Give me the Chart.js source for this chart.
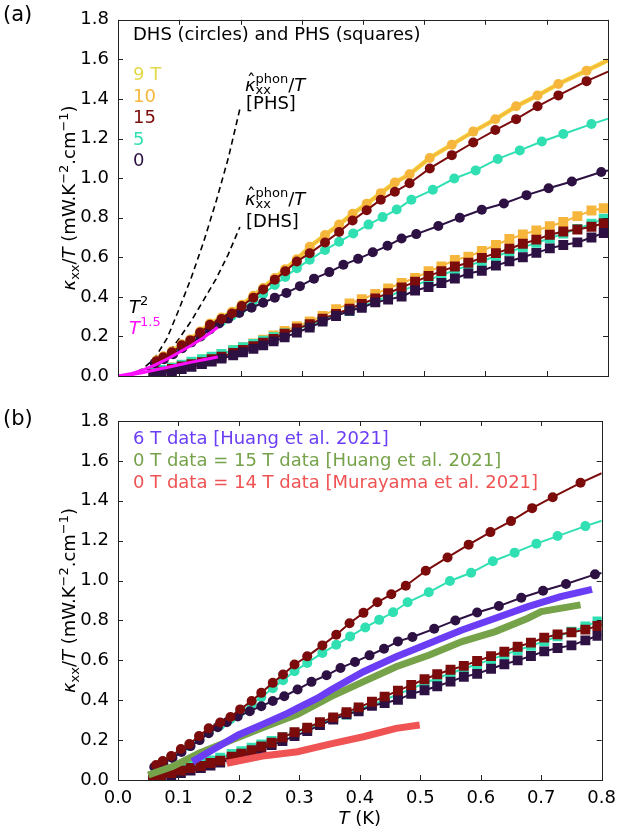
<!DOCTYPE html>
<html>
<head>
<meta charset="utf-8">
<script src="https://cdn.jsdelivr.net/npm/chart.js@4.4.1/dist/chart.umd.min.js"></script>
<style>
    html, body { margin: 0; padding: 0; background: #fff; }
    #wrap { position: relative; width: 624px; height: 835px; }
    canvas { position: absolute; left: 0; }
    #chartA { top: 0; }
    #chartB { top: 400px; }
</style>
</head>
<body>
<div id="wrap">
    <canvas id="chartA" width="624" height="400"></canvas>
    <canvas id="chartB" width="624" height="435"></canvas>
</div>
<script>
// ---- DHS data (circles) ----
const tDhs = [0.063, 0.074, 0.088, 0.104, 0.118, 0.134, 0.150, 0.169, 0.186, 0.202, 0.221, 0.237, 0.256, 0.273, 0.292, 0.313, 0.338, 0.361, 0.383, 0.406, 0.429, 0.452, 0.476, 0.509, 0.545, 0.580, 0.616, 0.650, 0.685, 0.719, 0.765, 0.800];
const dhs9T  = [0.08, 0.10, 0.125, 0.16, 0.185, 0.225, 0.265, 0.295, 0.325, 0.36, 0.405, 0.445, 0.495, 0.54, 0.59, 0.653, 0.712, 0.765, 0.82, 0.87, 0.924, 0.978, 1.019, 1.102, 1.169, 1.235, 1.297, 1.363, 1.418, 1.476, 1.543, 1.595];
const dhs10T = [0.08, 0.10, 0.125, 0.16, 0.185, 0.225, 0.265, 0.295, 0.325, 0.36, 0.405, 0.445, 0.495, 0.54, 0.59, 0.653, 0.712, 0.765, 0.82, 0.87, 0.924, 0.978, 1.019, 1.102, 1.169, 1.235, 1.297, 1.363, 1.418, 1.476, 1.543, 1.595];
const dhs15T = [0.075, 0.095, 0.12, 0.155, 0.18, 0.22, 0.259, 0.288, 0.316, 0.354, 0.396, 0.437, 0.487, 0.529, 0.579, 0.62, 0.675, 0.728, 0.786, 0.838, 0.891, 0.931, 0.974, 1.049, 1.116, 1.180, 1.243, 1.298, 1.363, 1.418, 1.490, 1.538];
const tDhs5 = [0.063, 0.074, 0.088, 0.104, 0.118, 0.134, 0.150, 0.169, 0.186, 0.202, 0.221, 0.237, 0.256, 0.273, 0.292, 0.313, 0.338, 0.361, 0.384, 0.409, 0.432, 0.455, 0.479, 0.514, 0.549, 0.584, 0.620, 0.656, 0.692, 0.727, 0.773, 0.800];
const dhs5T  = [0.07, 0.09, 0.115, 0.145, 0.17, 0.205, 0.24, 0.275, 0.305, 0.34, 0.38, 0.415, 0.46, 0.50, 0.545, 0.587, 0.637, 0.678, 0.720, 0.765, 0.803, 0.841, 0.891, 0.941, 0.998, 1.039, 1.097, 1.14, 1.185, 1.223, 1.273, 1.30];
const tDhs0 = [0.060, 0.075, 0.090, 0.105, 0.120, 0.135, 0.150, 0.165, 0.180, 0.198, 0.218, 0.237, 0.256, 0.275, 0.297, 0.320, 0.345, 0.368, 0.392, 0.416, 0.440, 0.463, 0.487, 0.523, 0.558, 0.594, 0.630, 0.667, 0.703, 0.741, 0.789, 0.800];
const dhs0T  = [0.065, 0.085, 0.11, 0.14, 0.17, 0.20, 0.235, 0.265, 0.29, 0.318, 0.345, 0.37, 0.396, 0.42, 0.454, 0.492, 0.525, 0.562, 0.592, 0.625, 0.658, 0.695, 0.717, 0.758, 0.800, 0.840, 0.872, 0.914, 0.949, 0.983, 1.031, 1.038];

// ---- PHS data (squares) ----
const tPhs = [0.058, 0.071, 0.088, 0.104, 0.120, 0.137, 0.153, 0.169, 0.188, 0.204, 0.221, 0.237, 0.254, 0.272, 0.292, 0.313, 0.334, 0.356, 0.378, 0.398, 0.420, 0.441, 0.463, 0.485, 0.507, 0.528, 0.550, 0.572, 0.594, 0.617, 0.639, 0.661, 0.683, 0.705, 0.727, 0.750, 0.773, 0.793, 0.800];
const phs10T = [0.02, 0.03, 0.043, 0.056, 0.07, 0.082, 0.096, 0.11, 0.13, 0.146, 0.165, 0.184, 0.205, 0.228, 0.252, 0.276, 0.304, 0.338, 0.366, 0.388, 0.415, 0.442, 0.470, 0.495, 0.529, 0.554, 0.587, 0.603, 0.632, 0.662, 0.692, 0.715, 0.736, 0.757, 0.778, 0.808, 0.836, 0.848, 0.852];
const phs15T = [0.012, 0.022, 0.035, 0.048, 0.06, 0.07, 0.085, 0.097, 0.117, 0.132, 0.150, 0.168, 0.187, 0.214, 0.24, 0.262, 0.29, 0.314, 0.34, 0.364, 0.392, 0.418, 0.448, 0.476, 0.505, 0.53, 0.553, 0.572, 0.597, 0.621, 0.643, 0.668, 0.689, 0.714, 0.73, 0.74, 0.754, 0.772, 0.778];
const phs5T  = [0.02, 0.03, 0.042, 0.057, 0.072, 0.085, 0.098, 0.112, 0.13, 0.145, 0.162, 0.178, 0.196, 0.215, 0.237, 0.258, 0.283, 0.305, 0.328, 0.352, 0.378, 0.402, 0.43, 0.457, 0.485, 0.51, 0.535, 0.558, 0.58, 0.605, 0.628, 0.65, 0.673, 0.695, 0.72, 0.743, 0.77, 0.795, 0.80];
const phs0T  = [0.008, 0.015, 0.025, 0.035, 0.047, 0.06, 0.073, 0.088, 0.105, 0.12, 0.137, 0.155, 0.175, 0.195, 0.22, 0.245, 0.275, 0.303, 0.33, 0.345, 0.372, 0.386, 0.402, 0.432, 0.45, 0.47, 0.493, 0.518, 0.532, 0.558, 0.58, 0.6, 0.622, 0.645, 0.662, 0.675, 0.70, 0.723, 0.73];

// ---- phonon estimates (dashed) and power-law fits (magenta) ----
const tPhon = [0, 0.02, 0.04, 0.06, 0.08, 0.10, 0.12, 0.14, 0.16, 0.18, 0.199];
const phonPhs = [0, 0.006, 0.035, 0.09, 0.19, 0.34, 0.50, 0.68, 0.88, 1.10, 1.35];
const phonDhs = [0, 0.004, 0.018, 0.05, 0.105, 0.19, 0.28, 0.385, 0.49, 0.615, 0.753];
const tFit = [0, 0.02, 0.04, 0.06, 0.08, 0.10, 0.12, 0.14, 0.163];
const fitDhs = [0, 0.011, 0.03, 0.055, 0.085, 0.12, 0.155, 0.195, 0.246];
const fitPhs = [0, 0.006, 0.016, 0.03, 0.043, 0.057, 0.07, 0.082, 0.096];

// ---- published data, panel (b) ----
const tHuang6 = [0.123, 0.156, 0.199, 0.243, 0.281, 0.297, 0.330, 0.352, 0.406, 0.460, 0.515, 0.569, 0.624, 0.678, 0.732, 0.784];
const huang6T = [0.092, 0.15, 0.226, 0.284, 0.335, 0.36, 0.41, 0.451, 0.543, 0.618, 0.686, 0.752, 0.811, 0.869, 0.919, 0.956];
const tHuang0 = [0.050, 0.090, 0.134, 0.188, 0.243, 0.297, 0.352, 0.406, 0.460, 0.515, 0.569, 0.624, 0.678, 0.700, 0.765];
const huang0T = [0.025, 0.067, 0.134, 0.2, 0.267, 0.33, 0.418, 0.493, 0.568, 0.627, 0.694, 0.744, 0.811, 0.844, 0.878];
const tMura = [0.180, 0.243, 0.297, 0.352, 0.406, 0.460, 0.499];
const mura0T = [0.084, 0.122, 0.142, 0.181, 0.217, 0.259, 0.276];

const xTicks = [0, 0.1, 0.2, 0.3, 0.4, 0.5, 0.6, 0.7, 0.8];
const yTicks = [0, 0.2, 0.4, 0.6, 0.8, 1.0, 1.2, 1.4, 1.6, 1.8];

const C9 = '#e2da48', C10 = '#f6b63c', C15 = '#7c0b0b', C5 = '#30e0b2', C0 = '#2d1143';
const CHUANG6 = '#6b3ef6', CHUANG0 = '#76a24a', CMURA = '#ef5353';
const FAM = '"DejaVu Sans"';

// Build one series
function series(xs, ys, color, extra) {
    const r = extra.radius || 0;
    return Object.assign({
        data: xs.map((x, i) => ({ x: x, y: ys[i] })),
        showLine: true,
        borderColor: color,
        backgroundColor: color,
        pointBackgroundColor: color,
        pointBorderWidth: 0,
        borderWidth: 2,
        tension: 0,
        pointRadius: ctx => (ctx.raw && ctx.raw.x >= 0.8 ? 0 : r),
        pointHoverRadius: 0,
    }, extra);
}

// Draw a run of text pieces (font / offset changes), optionally rotated
function rich(ctx, parts, x, y, rot, center) {
    ctx.save();
    ctx.translate(x, y);
    if (rot) ctx.rotate(rot);
    ctx.textBaseline = 'alphabetic';
    ctx.textAlign = 'left';
    const layout = [];
    let cx = 0, prevStart = 0, prevW = 0;
    parts.forEach(p => {
        ctx.font = p.f;
        const w = ctx.measureText(p.t).width;
        if (p.stack) {
            // put on top of the previous piece instead of after it
            const off = p.mid ? (prevW - w) / 2 + (p.dx || 0) : 0;
            layout.push({ p: p, x: prevStart + off });
            if (!p.mid) cx = prevStart + Math.max(prevW, w);
        } else {
            layout.push({ p: p, x: cx });
            prevStart = cx; prevW = w;
            cx += w;
        }
    });
    const shift = center ? -cx / 2 : 0;
    layout.forEach(l => {
        ctx.font = l.p.f;
        ctx.fillStyle = l.p.c || '#000';
        ctx.fillText(l.p.t, l.x + shift, l.p.dy || 0);
    });
    ctx.restore();
}

const F = '18px ' + FAM, FI = 'italic 18px ' + FAM, FS = '13px ' + FAM;

function yTitle(ctx, area) {
    rich(ctx, [
        { t: 'κ', f: FI }, { t: 'xx', f: FS, dy: 4 }, { t: '/', f: F }, { t: 'T', f: FI },
        { t: ' (mW.K', f: F }, { t: '−2', f: FS, dy: -7 }, { t: '.cm', f: F },
        { t: '−1', f: FS, dy: -7 }, { t: ')', f: F }
    ], 75, (area.top + area.bottom) / 2, -Math.PI / 2, true);
}

// Frame, inward ticks on all sides, and the text for each panel
function decor(drawText) {
    return {
        id: 'decor',
        afterDatasetsDraw(chart) {
            const ctx = chart.ctx, a = chart.chartArea;
            const xs = chart.scales.x, ys = chart.scales.y;
            ctx.save();
            ctx.strokeStyle = '#222';
            ctx.lineWidth = 1;
            ctx.beginPath();
            xTicks.forEach(v => {
                const px = Math.round(xs.getPixelForValue(v)) + 0.5;
                ctx.moveTo(px, a.bottom); ctx.lineTo(px, a.bottom - 5);
                ctx.moveTo(px, a.top); ctx.lineTo(px, a.top + 5);
            });
            yTicks.forEach(v => {
                const py = Math.round(ys.getPixelForValue(v)) + 0.5;
                ctx.moveTo(a.left, py); ctx.lineTo(a.left + 5, py);
                ctx.moveTo(a.right, py); ctx.lineTo(a.right - 5, py);
            });
            ctx.stroke();
            ctx.strokeRect(Math.round(a.left) + 0.5, Math.round(a.top) + 0.5,
                Math.round(a.right - a.left), Math.round(a.bottom - a.top));
            ctx.restore();
            drawText(ctx, a);
        }
    };
}

function scaleOpts(showX) {
    return {
        x: {
            type: 'linear', min: 0, max: 0.8,
            grid: { display: false, drawTicks: false }, border: { display: false },
            ticks: {
                display: showX, stepSize: 0.1, padding: 8, color: '#000', maxRotation: 0, autoSkip: false,
                font: { family: 'DejaVu Sans', size: 18 }, callback: v => v.toFixed(1)
            },
            afterFit: s => { s.height = showX ? 55 : 24; }
        },
        y: {
            type: 'linear', min: 0, max: 1.8,
            grid: { display: false, drawTicks: false }, border: { display: false },
            ticks: {
                stepSize: 0.2, padding: 9, color: '#000',
                font: { family: 'DejaVu Sans', size: 18 }, callback: v => v.toFixed(1)
            },
            afterFit: s => { s.width = 118; }
        }
    };
}

function baseOptions(showX, padTop) {
    return {
        responsive: false,
        animation: false,
        devicePixelRatio: 1,
        events: [],
        layout: { padding: { top: padTop, right: 16, left: 0, bottom: 0 } },
        plugins: { legend: { display: false }, tooltip: { enabled: false } },
        scales: scaleOpts(showX)
    };
}

// datasets listed bottom-to-top; order makes later ones draw on top
function stacked(list) {
    return list.map((d, i) => Object.assign(d, { order: -i }));
}

const dashed = { borderWidth: 1.6, borderDash: [6, 4], radius: 0 };

// ---- panel (a) ----
const dataA = stacked([
    series(tPhon, phonPhs, '#000', Object.assign({}, dashed)),
    series(tPhon, phonDhs, '#000', Object.assign({}, dashed)),
    series(tPhs, phs10T, C10, { radius: 7, pointStyle: 'rect' }),
    series(tPhs, phs5T, C5, { radius: 7, pointStyle: 'rect' }),
    series(tPhs, phs15T, C15, { radius: 7, pointStyle: 'rect' }),
    series(tPhs, phs0T, C0, { radius: 7, pointStyle: 'rect' }),
    series(tDhs, dhs9T, '#f3d23c', { borderWidth: 4.5, radius: 0 }),
    series(tDhs, dhs10T, C10, { radius: 5 }),
    series(tDhs5, dhs5T, C5, { radius: 5 }),
    series(tDhs0, dhs0T, C0, { radius: 5 }),
    series(tDhs, dhs15T, C15, { radius: 5 }),
    series(tFit, fitDhs, '#ff10ff', { borderWidth: 3, radius: 0 }),
    series(tFit, fitPhs, '#ff10ff', { borderWidth: 3, radius: 0 }),
]);

new Chart(document.getElementById('chartA'), {
    type: 'scatter',
    data: { datasets: dataA },
    options: baseOptions(false, 15),
    plugins: [decor((ctx, area) => {
        yTitle(ctx, area);
        rich(ctx, [{ t: '(a)', f: '21px ' + FAM }], 3, 21);
        rich(ctx, [{ t: 'DHS (circles) and PHS (squares)', f: F }], 133, 40);
        rich(ctx, [{ t: '9 T', f: F, c: C9 }], 133, 80);
        rich(ctx, [{ t: '10', f: F, c: C10 }], 133, 102);
        rich(ctx, [{ t: '15', f: F, c: C15 }], 133, 123);
        rich(ctx, [{ t: '5', f: F, c: C5 }], 133, 145);
        rich(ctx, [{ t: '0', f: F, c: C0 }], 133, 166);
        const kap = [
            { t: 'κ', f: FI }, { t: 'ˆ', f: F, dy: -4, stack: true, mid: true, dx: 1 },
            { t: 'phon', f: FS, dy: -8 }, { t: 'xx', f: FS, dy: 3, stack: true },
            { t: '/', f: F }, { t: 'T', f: FI }
        ];
        rich(ctx, kap, 245, 91);
        rich(ctx, [{ t: '[PHS]', f: F }], 246, 109);
        rich(ctx, kap, 245, 205);
        rich(ctx, [{ t: '[DHS]', f: F }], 246, 227);
        rich(ctx, [{ t: 'T', f: FI }, { t: '2', f: FS, dy: -8 }], 129, 313);
        rich(ctx, [{ t: 'T', f: FI, c: '#ff10ff' }, { t: '1.5', f: FS, dy: -8, c: '#ff10ff' }], 129, 334);
    })]
});

// ---- panel (b) ----
const dataB = stacked([
    series(tPhs, phs5T, C5, { radius: 7, pointStyle: 'rect' }),
    series(tPhs, phs0T, C0, { radius: 7, pointStyle: 'rect' }),
    series(tPhs, phs15T, C15, { radius: 7, pointStyle: 'rect' }),
    series(tDhs5, dhs5T, C5, { radius: 5 }),
    series(tDhs0, dhs0T, C0, { radius: 5 }),
    series(tDhs, dhs15T, C15, { radius: 5 }),
    series(tHuang0, huang0T, CHUANG0, { borderWidth: 7, radius: 0 }),
    series(tHuang6, huang6T, CHUANG6, { borderWidth: 7, radius: 0 }),
    series(tMura, mura0T, CMURA, { borderWidth: 7, radius: 0 }),
]);

new Chart(document.getElementById('chartB'), {
    type: 'scatter',
    data: { datasets: dataB },
    options: baseOptions(true, 21),
    plugins: [decor((ctx, area) => {
        yTitle(ctx, area);
        rich(ctx, [{ t: '(b)', f: '21px ' + FAM }], 3, 25);
        rich(ctx, [{ t: '6 T data [Huang et al. 2021]', f: F, c: CHUANG6 }], 133, 44);
        rich(ctx, [{ t: '0 T data = 15 T data [Huang et al. 2021]', f: F, c: CHUANG0 }], 133, 66);
        rich(ctx, [{ t: '0 T data = 14 T data [Murayama et al. 2021]', f: F, c: CMURA }], 133, 88);
        rich(ctx, [{ t: 'T', f: FI }, { t: ' (K)', f: F }], (area.left + area.right) / 2, 424, 0, true);
    })]
});
</script>
</body>
</html>
